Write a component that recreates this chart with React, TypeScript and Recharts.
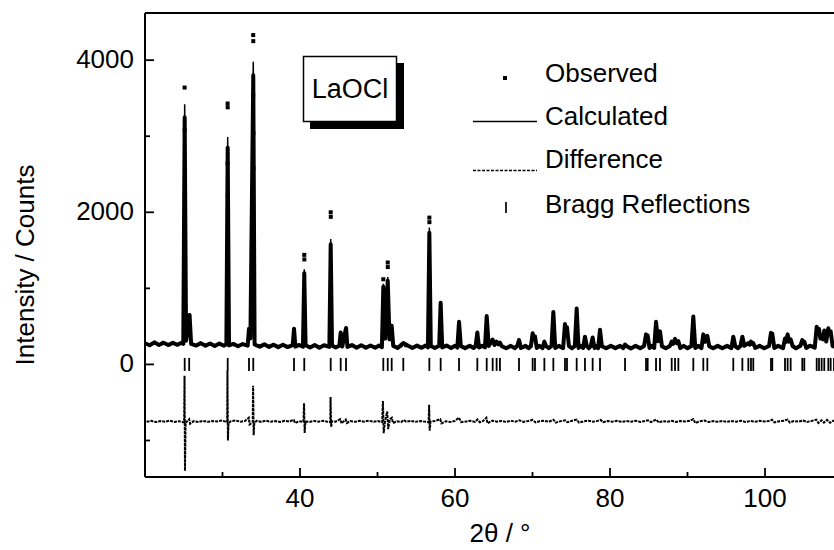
import { ComposedChart, Label, Line, Scatter, XAxis, YAxis } from "recharts";

const FONT = "'Liberation Sans', Arial, Helvetica, sans-serif";

// 2θ (deg), counts
const calculated: [number, number][] = [
  [20, 272], [24.94, 268], [25.12, 3420], [25.3, 300], [25.75, 670], [25.95, 264],
  [30.5, 258], [30.67, 2990], [30.84, 258],
  [33.25, 255], [33.42, 480], [33.6, 330], [33.97, 3980], [34.14, 255],
  [39.06, 246], [39.23, 480], [39.4, 245],
  [40.38, 243], [40.55, 1250], [40.72, 242],
  [43.79, 240], [43.96, 1650], [44.13, 240],
  [45.08, 238], [45.25, 430], [45.45, 245], [45.94, 490], [46.12, 238],
  [50.57, 236], [50.75, 1060], [51.0, 330], [51.32, 1150], [51.55, 320], [51.83, 520], [52.03, 235],
  [53.12, 234], [53.33, 275], [53.55, 234],
  [56.51, 233], [56.69, 1800], [56.88, 233],
  [57.96, 233], [58.15, 830], [58.35, 232],
  [60.3, 232], [60.52, 570], [60.75, 232],
  [62.66, 231], [62.88, 430], [63.1, 231],
  [63.87, 231], [64.09, 650], [64.35, 240], [64.86, 320], [65.1, 260], [65.37, 300], [65.6, 270], [65.8, 290], [66.05, 230],
  [68.02, 229], [68.26, 320], [68.5, 229],
  [69.8, 229], [70.02, 420], [70.17, 330], [70.32, 380], [70.55, 229],
  [71.3, 229], [71.53, 300], [71.76, 229],
  [72.45, 229], [72.69, 700], [72.93, 229],
  [73.95, 228], [74.19, 540], [74.32, 420], [74.45, 500], [74.7, 228],
  [75.46, 228], [75.7, 750], [75.94, 228],
  [76.53, 228], [76.77, 370], [77.01, 228],
  [77.52, 228], [77.76, 360], [78.0, 228],
  [78.47, 228], [78.71, 460], [78.95, 228],
  [81.7, 228], [81.94, 260], [82.18, 228],
  [84.4, 228], [84.65, 400], [84.76, 340], [84.86, 380], [85.1, 228],
  [85.7, 228], [85.94, 570], [86.18, 300], [86.45, 440], [86.7, 228],
  [87.72, 228], [87.96, 300], [88.15, 270], [88.39, 340], [88.6, 280], [88.82, 310], [89.06, 228],
  [90.5, 228], [90.75, 640], [91.0, 228],
  [91.8, 228], [92.04, 400], [92.3, 300], [92.56, 380], [92.8, 228],
  [95.66, 228], [95.91, 370], [96.16, 228],
  [96.83, 228], [97.08, 370], [97.33, 240], [97.85, 280], [98.02, 260], [98.19, 300], [98.35, 270], [98.49, 280], [98.74, 228],
  [100.52, 228], [100.77, 420], [100.86, 380], [100.94, 410], [101.2, 228],
  [102.33, 228], [102.58, 340], [102.75, 300], [102.92, 400], [103.1, 300], [103.31, 330], [103.56, 228],
  [104.56, 228], [104.81, 320], [104.94, 280], [105.07, 300], [105.32, 228],
  [106.42, 230], [106.67, 500], [106.82, 400], [106.97, 470], [107.14, 340], [107.31, 380], [107.48, 330], [107.65, 450],
  [107.9, 300], [108.17, 480], [108.32, 400], [108.47, 440], [108.72, 232],
  [109.3, 232], [109.6, 380], [109.9, 232], [110, 232],
];

const observed: [number, number][] = [
  [20.0, 278], [20.6, 252], [21.2, 290], [21.8, 256], [22.4, 286], [23.0, 254], [23.6, 284], [24.2, 258], [24.7, 286],
  [24.94, 270], [25.12, 3250], [25.3, 310], [25.75, 650], [25.95, 270],
  [26.6, 248], [27.2, 280], [27.8, 245], [28.4, 276], [29.0, 242], [29.6, 274], [30.2, 246],
  [30.5, 268], [30.67, 2850], [30.84, 250],
  [31.4, 270], [32.0, 238], [32.6, 268],
  [33.25, 246], [33.42, 470], [33.6, 340], [33.97, 3800], [34.14, 262],
  [34.8, 234], [35.4, 264], [36.0, 230], [36.6, 260], [37.2, 226], [37.8, 258], [38.4, 228],
  [39.06, 254], [39.23, 470], [39.4, 234],
  [39.9, 256],
  [40.38, 232], [40.55, 1200], [40.72, 252],
  [41.3, 222], [41.9, 255], [42.5, 220], [43.1, 252],
  [43.79, 230], [43.96, 1580], [44.13, 250],
  [44.6, 222],
  [45.08, 246], [45.25, 420], [45.45, 234], [45.94, 480], [46.12, 230],
  [46.7, 254], [47.3, 220], [47.9, 251], [48.5, 218], [49.1, 249], [49.7, 220], [50.2, 248],
  [50.57, 226], [50.75, 1020], [51.0, 340], [51.32, 1100], [51.55, 330], [51.83, 510], [52.03, 244],
  [52.6, 216], [53.33, 280], [53.9, 248], [54.5, 216], [55.1, 247], [55.7, 218], [56.2, 248],
  [56.51, 224], [56.69, 1730], [56.88, 242],
  [57.4, 216], [57.96, 246], [58.15, 810], [58.35, 224],
  [58.9, 248], [59.5, 216], [60.0, 246],
  [60.3, 222], [60.52, 560], [60.75, 242],
  [61.3, 214], [61.9, 246], [62.4, 216],
  [62.66, 242], [62.88, 420], [63.1, 222], [63.5, 246],
  [63.87, 224], [64.09, 635], [64.35, 245], [64.86, 325], [65.1, 255], [65.37, 300], [65.6, 265], [65.8, 285], [66.05, 240],
  [66.6, 212], [67.2, 244], [67.7, 214], [68.02, 242], [68.26, 320], [68.5, 216],
  [69.1, 244], [69.5, 214], [69.8, 240], [70.02, 410], [70.17, 330], [70.32, 370], [70.55, 216],
  [70.9, 244], [71.3, 214], [71.53, 300], [71.76, 240],
  [72.1, 214], [72.45, 242], [72.69, 690], [72.93, 216],
  [73.4, 244], [73.95, 214], [74.19, 530], [74.32, 420], [74.45, 490], [74.7, 240],
  [75.1, 212], [75.46, 242], [75.7, 735], [75.94, 216],
  [76.2, 244], [76.53, 216], [76.77, 365], [77.01, 240], [77.25, 212],
  [77.52, 240], [77.76, 355], [78.0, 216], [78.25, 242],
  [78.47, 214], [78.71, 455], [78.95, 240],
  [79.5, 212], [80.1, 244], [80.7, 214], [81.3, 244], [81.7, 214], [81.94, 262], [82.18, 240],
  [82.7, 210], [83.3, 244], [83.9, 212], [84.4, 242], [84.65, 395], [84.76, 340], [84.86, 380], [85.1, 216],
  [85.4, 244], [85.7, 216], [85.94, 560], [86.18, 305], [86.45, 435], [86.7, 240],
  [87.2, 212], [87.72, 242], [87.96, 300], [88.15, 270], [88.39, 335], [88.6, 280], [88.82, 305], [89.06, 216],
  [89.5, 244], [90.0, 212], [90.5, 242], [90.75, 630], [91.0, 216],
  [91.4, 244], [91.8, 214], [92.04, 395], [92.3, 300], [92.56, 375], [92.8, 240],
  [93.3, 212], [93.9, 244], [94.5, 212], [95.1, 244], [95.66, 214], [95.91, 365], [96.16, 240],
  [96.5, 212], [96.83, 242], [97.08, 365], [97.33, 245], [97.85, 280], [98.02, 260], [98.19, 300], [98.35, 270], [98.49, 280], [98.74, 216],
  [99.3, 244], [99.9, 212], [100.52, 242], [100.77, 415], [100.86, 380], [100.94, 405], [101.2, 216],
  [101.7, 244], [102.33, 214], [102.58, 340], [102.75, 300], [102.92, 395], [103.1, 300], [103.31, 330], [103.56, 242],
  [104.0, 212], [104.56, 244], [104.81, 320], [104.94, 280], [105.07, 300], [105.32, 216],
  [105.8, 246], [106.42, 220], [106.67, 495], [106.82, 400], [106.97, 465], [107.14, 340], [107.31, 380], [107.48, 330], [107.65, 445],
  [107.9, 300], [108.17, 475], [108.32, 400], [108.47, 435], [108.72, 244],
  [109.3, 218], [109.6, 375], [109.9, 242], [110, 222],
];

// isolated observed points on the strong peaks (tops and flanks)
const observedPeakDots: [number, number][] = [
  [25.11, 3640], [25.12, 3080], [25.13, 2220], [25.14, 1410],
  [30.66, 3430], [30.67, 3380], [30.66, 2645], [30.68, 2220], [30.69, 1765],
  [33.96, 4330], [33.97, 4250], [33.96, 3540], [33.98, 3040], [33.99, 2580], [33.95, 2160],
  [40.55, 1440], [40.56, 1380],
  [43.96, 2000], [43.97, 1940],
  [50.75, 1120],
  [51.32, 1340], [51.33, 1280],
  [56.69, 1930], [56.7, 1870],
];

const difference: [number, number][] = [
  [20.2, -755], [20.8, -742], [21.4, -758], [22.0, -745], [22.6, -752], [23.2, -740], [23.8, -756], [24.4, -746], [24.9, -760],
  [25.05, -760], [25.1, -150], [25.16, -1400], [25.24, -770], [25.5, -740], [25.7, -720], [25.82, -780], [26.3, -745],
  [26.9, -757], [27.5, -742], [28.1, -755], [28.7, -745], [29.3, -750], [29.9, -738], [30.4, -752],
  [30.6, -760], [30.64, -80], [30.7, -1000], [30.78, -770], [31.1, -745], [31.7, -738], [32.3, -752], [32.9, -744],
  [33.4, -700], [33.5, -790], [33.9, -760], [33.95, -280], [34.02, -930], [34.1, -770], [34.4, -742],
  [35.0, -755], [35.6, -740], [36.2, -753], [36.8, -744], [37.4, -756], [38.0, -742], [38.6, -750],
  [39.2, -730], [39.35, -770], [39.9, -748], [40.45, -755], [40.52, -510], [40.6, -900], [40.7, -750],
  [41.2, -756], [41.8, -744], [42.4, -752], [43.0, -740], [43.6, -755],
  [43.9, -760], [43.94, -430], [44.02, -820], [44.12, -745], [44.6, -752],
  [45.2, -720], [45.35, -775], [45.9, -725], [46.05, -770], [46.5, -745], [47.1, -755], [47.7, -742], [48.3, -752],
  [48.9, -740], [49.5, -754], [50.1, -745], [50.6, -760], [50.7, -480], [50.8, -905], [50.95, -760],
  [51.25, -620], [51.38, -850], [51.6, -720], [51.85, -700], [52.0, -770], [52.5, -748], [53.1, -756],
  [53.35, -730], [53.7, -752], [54.3, -742], [54.9, -755], [55.5, -744], [56.1, -752],
  [56.6, -760], [56.66, -530], [56.73, -870], [56.85, -750], [57.4, -744], [58.1, -720], [58.25, -775],
  [58.8, -748], [59.4, -756], [60.0, -742], [60.5, -700], [60.8, -758], [61.4, -750], [62.0, -740], [62.6, -755],
  [62.9, -725], [63.2, -760], [63.6, -745], [64.05, -700], [64.2, -775], [64.8, -740], [65.4, -752], [66.0, -744],
  [66.6, -756], [67.2, -742], [67.8, -752], [68.3, -735], [68.8, -755], [69.4, -744], [70.0, -730], [70.4, -762],
  [70.9, -748], [71.5, -740], [72.1, -754], [72.7, -728], [73.0, -765], [73.6, -746], [74.2, -735], [74.5, -760],
  [75.0, -744], [75.7, -725], [76.0, -765], [76.6, -748], [77.2, -740], [77.8, -754], [78.4, -742], [78.8, -730],
  [79.1, -760], [79.7, -745], [80.3, -752], [80.9, -741], [81.5, -755], [82.1, -744], [82.7, -752], [83.3, -740],
  [83.9, -756], [84.5, -745], [84.9, -735], [85.3, -758], [85.95, -725], [86.3, -765], [86.8, -745], [87.4, -754],
  [88.0, -742], [88.5, -756], [89.1, -744], [89.7, -750], [90.3, -742], [90.75, -720], [91.0, -770], [91.6, -748],
  [92.2, -738], [92.7, -758], [93.3, -745], [93.9, -753], [94.5, -743], [95.1, -755], [95.7, -745], [96.3, -752],
  [96.9, -741], [97.5, -756], [98.1, -744], [98.7, -752], [99.3, -742], [99.9, -750], [100.5, -744], [100.9, -728],
  [101.2, -762], [101.8, -748], [102.4, -740], [102.9, -725], [103.2, -765], [103.7, -745], [104.3, -752],
  [104.9, -738], [105.4, -756], [106.0, -744], [106.6, -725], [106.9, -770], [107.3, -735], [107.6, -765],
  [108.0, -730], [108.4, -768], [108.8, -740], [109.4, -752], [110, -746],
];

const braggPositions = [
  25.12, 25.7, 30.67, 33.42, 33.97, 39.23, 40.55, 43.96, 45.25, 45.94, 50.75, 51.32, 51.83, 53.33,
  56.69, 58.15, 60.52, 62.88, 64.09, 64.86, 65.37, 65.8, 68.26, 70.02, 70.32, 71.53, 72.69, 74.19,
  74.45, 75.7, 76.77, 77.76, 78.71, 81.94, 84.65, 84.86, 85.94, 86.45, 87.96, 88.39, 88.82, 90.75,
  92.04, 92.56, 95.91, 97.08, 97.85, 98.19, 98.49, 100.77, 100.94, 102.58, 102.92, 103.31, 104.81,
  105.07, 106.67, 106.97, 107.31, 107.65, 108.17, 108.47, 108.9, 109.3, 109.6,
];

const xTicks = [30, 40, 50, 60, 70, 80, 90, 100, 110];
const xLabelled = [40, 60, 80, 100];
const yTicks = [-1000, 0, 1000, 2000, 3000, 4000];
const yLabelled = [0, 2000, 4000];

const toPts = (rows: [number, number][]) => rows.map(([theta, counts]) => ({ theta, counts }));
const calcData = toPts(calculated);
const obsData = toPts(observed);
const obsDotData = toPts(observedPeakDots);
const diffData = toPts(difference);
const braggData = braggPositions.map((theta) => ({ theta, counts: 0 }));

const TICK = 1.8;

function BottomTick({ x, y, payload }: any) {
  const major = xLabelled.includes(payload.value);
  return (
    <g>
      <line x1={x} x2={x} y1={y} y2={y - (payload.value % 20 === 0 ? 9 : 5)} stroke="#000" strokeWidth={TICK} />
      {major && (
        <text x={x} y={y + 21} textAnchor="middle" dominantBaseline="central" fontSize={26} fontFamily={FONT} fill="#000">
          {payload.value}
        </text>
      )}
    </g>
  );
}

function TopTick({ x, y, payload }: any) {
  return <line x1={x} x2={x} y1={y} y2={y + (payload.value % 20 === 0 ? 9 : 5)} stroke="#000" strokeWidth={TICK} />;
}

function LeftTick({ x, y, payload }: any) {
  const major = yLabelled.includes(payload.value);
  return (
    <g>
      <line x1={x} x2={x + (major ? 9 : 5)} y1={y} y2={y} stroke="#000" strokeWidth={TICK} />
      {major && (
        <text x={x - 11} y={y - 1} textAnchor="end" dominantBaseline="central" fontSize={26} fontFamily={FONT} fill="#000">
          {payload.value}
        </text>
      )}
    </g>
  );
}

function RightTick({ x, y, payload }: any) {
  const major = yLabelled.includes(payload.value);
  return <line x1={x} x2={x - (major ? 9 : 5)} y1={y} y2={y} stroke="#000" strokeWidth={TICK} />;
}

const SquareDot = ({ cx, cy }: any) => <rect x={cx - 2} y={cy - 2} width={4} height={4} fill="#000" />;
const BraggTick = ({ cx, cy }: any) => (
  <line x1={cx} x2={cx} y1={cy - 6.5} y2={cy + 6.5} stroke="#000" strokeWidth={1.8} />
);

const axisLine = { stroke: "#000", strokeWidth: 2 };

export default function App() {
  return (
    <div style={{ position: "absolute", left: 0, top: 0, width: 834, height: 550, overflow: "hidden", background: "#fff", fontFamily: FONT }}>
      <ComposedChart width={880} height={550} margin={{ top: 3, right: 27.5, left: 85, bottom: 33 }}>
        <XAxis
          dataKey="theta"
          type="number"
          domain={[20, 110]}
          ticks={xTicks}
          tickLine={false}
          tickSize={0}
          tickMargin={0}
          axisLine={axisLine}
          tick={<BottomTick />}
          height={40}
          interval={0}
        >
          <Label
            content={() => (
              <text x={500} y={533} textAnchor="middle" dominantBaseline="central" fontSize={26} fontFamily={FONT} fill="#000">
                2θ / °
              </text>
            )}
          />
        </XAxis>
        <XAxis
          xAxisId="top"
          orientation="top"
          dataKey="theta"
          type="number"
          domain={[20, 110]}
          ticks={xTicks}
          tickLine={false}
          tickSize={0}
          tickMargin={0}
          axisLine={axisLine}
          tick={<TopTick />}
          height={10}
          interval={0}
        />
        <YAxis
          dataKey="counts"
          type="number"
          domain={[-1480, 4620]}
          ticks={yTicks}
          tickLine={false}
          tickSize={0}
          tickMargin={0}
          axisLine={axisLine}
          tick={<LeftTick />}
          width={60}
          interval={0}
        >
          <Label
            content={() => (
              <text
                x={25}
                y={265}
                transform="rotate(-90 25 265)"
                textAnchor="middle"
                dominantBaseline="central"
                fontSize={26}
                fontFamily={FONT}
                fill="#000"
              >
                Intensity / Counts
              </text>
            )}
          />
        </YAxis>
        <YAxis
          yAxisId="right"
          orientation="right"
          type="number"
          domain={[-1480, 4620]}
          ticks={yTicks}
          tickLine={false}
          tickSize={0}
          tickMargin={0}
          axisLine={axisLine}
          tick={<RightTick />}
          width={10}
          interval={0}
        />

        <Line
          data={obsData}
          dataKey="counts"
          type="linear"
          stroke="#000"
          strokeWidth={4}
          strokeLinejoin="round"
          dot={false}
          isAnimationActive={false}
        />
        <Scatter data={obsDotData} dataKey="counts" shape={<SquareDot />} isAnimationActive={false} />
        <Line
          data={calcData}
          dataKey="counts"
          type="linear"
          stroke="#000"
          strokeWidth={1.5}
          dot={false}
          isAnimationActive={false}
        />
        <Line
          data={diffData}
          dataKey="counts"
          type="linear"
          stroke="#000"
          strokeWidth={2}
          strokeDasharray="3 1"
          dot={false}
          isAnimationActive={false}
        />
        <Scatter data={braggData} dataKey="counts" shape={<BraggTick />} isAnimationActive={false} />
      </ComposedChart>

      <svg width={834} height={550} style={{ position: "absolute", left: 0, top: 0, pointerEvents: "none" }}>
        <rect x={310} y={63} width={94} height={66} fill="#000" />
        <rect x={303.5} y={56.5} width={93} height={65} fill="#fff" stroke="#000" strokeWidth={1.5} />
        <text x={350} y={89} textAnchor="middle" dominantBaseline="central" fontSize={27} fontFamily={FONT} fill="#000">
          LaOCl
        </text>

        <rect x={503} y={76} width={4} height={4} fill="#000" />
        <text x={545} y={82} fontSize={26} fontFamily={FONT} fill="#000">Observed</text>

        <line x1={473} x2={537} y1={121.5} y2={121.5} stroke="#000" strokeWidth={1.5} />
        <text x={545} y={125} fontSize={26} fontFamily={FONT} fill="#000">Calculated</text>

        <line x1={473} x2={537} y1={170.5} y2={170.5} stroke="#000" strokeWidth={1.5} strokeDasharray="3 1.5" />
        <text x={545} y={168} fontSize={26} fontFamily={FONT} fill="#000">Difference</text>

        <line x1={506} x2={506} y1={202} y2={213} stroke="#000" strokeWidth={1.7} />
        <text x={545} y={213} fontSize={26} fontFamily={FONT} fill="#000">Bragg Reflections</text>
      </svg>
    </div>
  );
}
